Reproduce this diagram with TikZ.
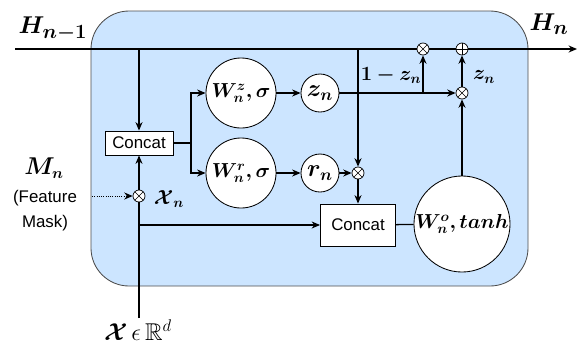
\documentclass[tikz,border=0pt]{standalone}
\usepackage{amsmath,amssymb,bm}
\usepackage{fontspec}
\newfontfamily\arialfont{Liberation Sans}
\usetikzlibrary{arrows.meta}
\definecolor{cellfill}{HTML}{CCE5FF}
\definecolor{cellborder}{HTML}{4D4D4D}

\tikzset{
  >={Stealth[length=6pt,width=5pt]},
  wire/.style={line width=0.9pt},
  gate/.style={circle, draw, fill=white, line width=0.6pt, inner sep=0pt, font=\Large},
  concatbox/.style={draw, fill=white, line width=0.6pt, inner sep=0pt,
    font=\arialfont\fontsize{12}{14}\selectfont},
  opmul/.style={circle, draw, fill=white, line width=0.5pt, minimum size=0.3cm, inner sep=0pt,
    path picture={\draw[line width=0.4pt] (path picture bounding box.north west) -- (path picture bounding box.south east)
      (path picture bounding box.north east) -- (path picture bounding box.south west);}},
  opadd/.style={circle, draw, fill=white, line width=0.5pt, minimum size=0.3cm, inner sep=0pt,
    path picture={\draw[line width=0.4pt] (path picture bounding box.north) -- (path picture bounding box.south)
      (path picture bounding box.east) -- (path picture bounding box.west);}},
  mathlabel/.style={font=\Large},
  sidetext/.style={font=\arialfont\fontsize{12}{14}\selectfont}
}

\begin{document}
\begin{tikzpicture}[x=0.025cm, y=-0.025cm]

\useasboundingbox (0,0) rectangle (578,344);

% --- Cell background ---
\draw[fill=cellfill, draw=cellborder, line width=0.6pt, rounded corners=0.95cm] (91,11) rectangle (528,286);

% --- Hidden state line ---
\coordinate (hin) at (15,49);
\coordinate (hout) at (577,49);
\draw[wire, ->] (hin) -- (hout);
\node[font=\fontsize{19}{21}\selectfont] (hprev) at (53,29) {$\boldsymbol{H_{n-1}}$};
\node[font=\fontsize{19}{21}\selectfont] (hnext) at (549,24) {$\boldsymbol{H_{n}}$};

% Taps on the hidden state line
\coordinate (tapA) at (139,49);
\coordinate (tapB) at (358,49);

% --- Nodes ---
\node[concatbox, minimum width=1.7cm, minimum height=0.6cm] (concA) at (139,143) {Concat};
\node[gate, minimum size=1.75cm] (Wz) at (241,93) {$\boldsymbol{W_n^z, \sigma}$};
\node[gate, minimum size=1.75cm] (Wr) at (241,173) {$\boldsymbol{W_n^r, \sigma}$};
\node[gate, minimum size=0.95cm, font=\LARGE] (zn) at (320,93) {$\boldsymbol{z_n}$};
\node[gate, minimum size=0.95cm, font=\LARGE] (rn) at (320,173) {$\boldsymbol{r_n}$};
\node[opmul] (mr) at (358,173) {};
\node[concatbox, minimum width=1.875cm, minimum height=1.05cm] (concB) at (358,225) {Concat};
\node[gate, minimum size=2.4cm] (Wo) at (462,224) {$\boldsymbol{W_n^o, tanh}$};
\node[opmul] (m1) at (423,49) {};
\node[opadd] (add) at (462,49) {};
\node[opmul] (m2) at (462,93) {};
\node[opmul] (mx) at (139,196) {};

% --- Inputs ---
\coordinate (xin) at (139,318);
\coordinate (tapX) at (139,225);
\coordinate (maskin) at (92,196);
\node[font=\LARGE] (xlabel) at (138,330) {$\boldsymbol{\mathcal{X}} \,\epsilon\, \mathbb{R}^d$};
\node[font=\fontsize{16}{18}\selectfont] (mlabel) at (44,168) {$\boldsymbol{M_n}$};
\node[sidetext] (feat) at (45,198) {(Feature};
\node[sidetext] (mask) at (45,223) {Mask)};
\node[mathlabel] (xnlabel) at (169,199) {$\boldsymbol{\mathcal{X}_n}$};

% --- Connectors ---
\draw[wire, ->] (tapA) -- (concA);
\draw[wire] (xin) -- (mx);
\draw[wire, ->] (mx) -- (concA);
\draw[densely dotted, line width=0.6pt, ->] (maskin) -- (mx);
\draw[wire, ->] (tapX) -- (tapX -| concB.west);

\coordinate (split) at (191,143);
\draw[wire] (concA) -- (split);
\draw[wire, ->] (split) |- (Wz);
\draw[wire, ->] (split) |- (Wr);
\draw[wire, ->] (Wz) -- (zn);
\draw[wire, ->] (Wr) -- (rn);
\draw[wire, ->] (rn) -- (mr);
\draw[wire, ->] (tapB) -- (mr);
\draw[wire, ->] (mr) -- (concB);
\draw[wire] (concB) -- (Wo);

% Update gate
\coordinate (jz) at (423,93);
\draw[wire] (zn) -- (jz);
\draw[wire, ->] (jz) -- (m1);
\draw[wire, ->] (jz) -- (m2);
\draw[wire, ->] (Wo) -- (m2);
\draw[wire, ->] (m2) -- (add);
\node[mathlabel] (onemz) at (391,75) {$\boldsymbol{1 - z_n}$};
\node[mathlabel] (zlabel) at (484,77) {$\boldsymbol{z_n}$};

\end{tikzpicture}
\end{document}
